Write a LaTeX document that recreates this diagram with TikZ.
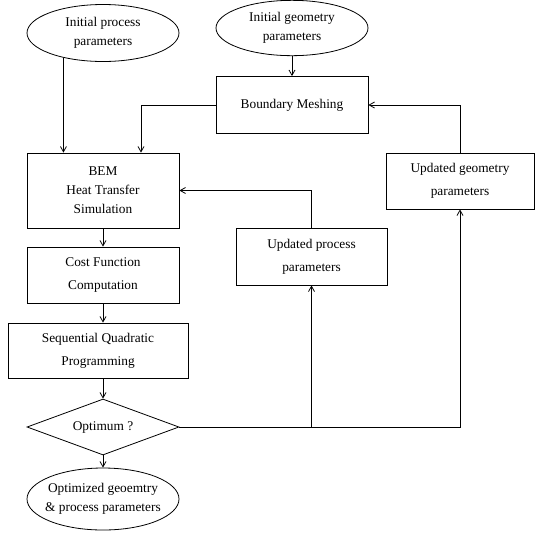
\documentclass[tikz,border=0pt]{standalone}
\usepackage{fontspec}
\setmainfont{Liberation Serif}
\usetikzlibrary{shapes.geometric,arrows.meta,calc}
\begin{document}
\begin{tikzpicture}[x=0.75pt,y=-0.75pt,
  base/.style={draw, inner sep=0pt, align=center, line width=0.6pt, font=\fontsize{10}{14.25}\selectfont},
  box/.style={base, rectangle},
  widebox/.style={base, rectangle, font=\fontsize{10}{17}\selectfont},
  ell/.style={base, ellipse, inner xsep=-4pt, minimum width=114pt},
  arr/.style={-{Straight Barb[length=4pt,width=4.5pt]}, line width=0.6pt}]
\fill[white] (0,0) rectangle (535,533);
\useasboundingbox (0,0) rectangle (535,533);
\node[ell, minimum height=42.75pt] (ip) at (103,33) {Initial process\\parameters};
\node[ell, minimum height=41.5pt] (ig) at (292,28) {Initial geometry\\parameters};
\node[box, minimum width=114pt, minimum height=42.75pt] (bm) at (292,105) {Boundary Meshing};
\node[box, minimum width=114pt, minimum height=56.25pt] (bem) at (103,190.5) {BEM\\Heat Transfer\\Simulation};
\node[widebox, minimum width=111pt, minimum height=42pt] (ug) at (460,181) {Updated geometry\\parameters};
\node[widebox, minimum width=113.25pt, minimum height=42.75pt] (up) at (311.5,256.5) {Updated process\\parameters};
\node[widebox, minimum width=114pt, minimum height=42pt] (cf) at (103,275) {Cost Function\\Computation};
\node[widebox, minimum width=135pt, minimum height=41.25pt] (sqp) at (98,350.5) {Sequential Quadratic\\Programming};
\node[base, diamond, aspect=2.7, minimum width=114pt, minimum height=42pt] (opt) at (103,427) {Optimum ?};
\node[ell, minimum height=46.5pt] (fin) at (103,499) {Optimized geoemtry\\\& process parameters};

\draw[arr] (ip.212.5) -- (ip.212.5 |- bem.north);
\draw[arr] (ig) -- (bm);
\draw[arr] (bm.west) -| ($(bem.north)+(38,0)$);
\draw[arr] (ug.north) |- (bm.east);
\draw[arr] (up.north) |- (bem.east);
\draw[arr] (bem) -- (cf);
\draw[arr] (cf.south) -- (cf.south |- sqp.north);
\draw[arr] (opt.north |- sqp.south) -- (opt.north);
\draw[arr] (opt) -- (fin);
\draw[arr] (opt.east) -| (ug.south);
\draw[arr] (opt.east -| up.south) -- (up.south);
\end{tikzpicture}
\end{document}
